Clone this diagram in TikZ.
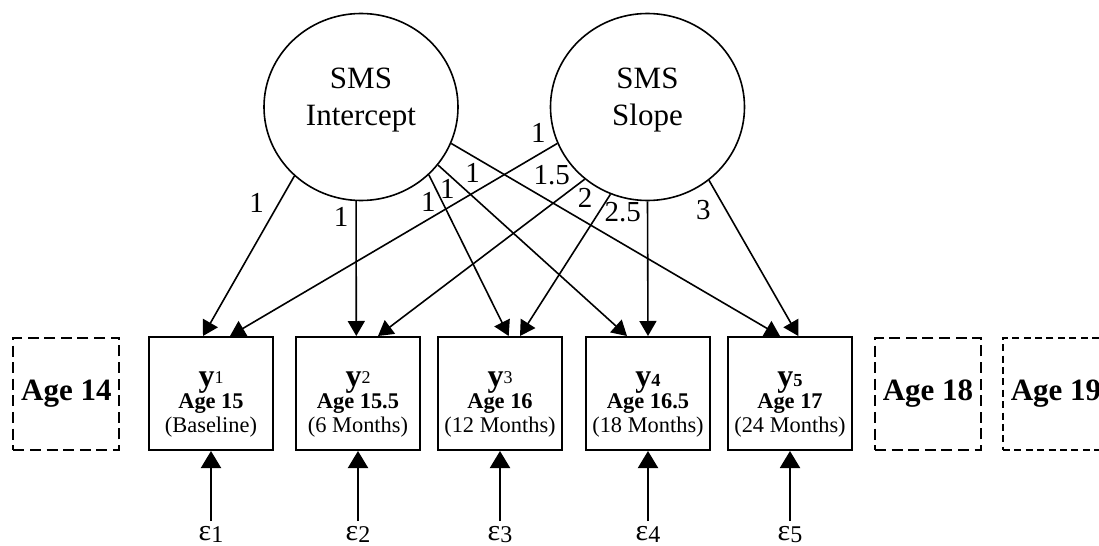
\documentclass[tikz,border=0pt]{standalone}
\usepackage{fontspec}
\setmainfont{Liberation Serif}
\usetikzlibrary{arrows.meta, positioning, shapes.geometric}

\newcommand{\obsy}[1]{\rule{0pt}{18.5pt}{\fontsize{16}{18}\selectfont\bfseries y}\raisebox{1.5pt}{\fontsize{9}{10}\selectfont #1}}
\newcommand{\obsyb}[1]{\rule{0pt}{18.5pt}{\fontsize{16}{18}\selectfont\bfseries y}{\fontsize{9.2}{10}\selectfont\bfseries #1}}
\newcommand{\errlbl}[1]{{\fontsize{15}{18}\selectfont ε}\raisebox{-1.2pt}{\fontsize{12}{14}\selectfont #1}}

\begin{document}
\begin{tikzpicture}[
  latent/.style={draw, ellipse, line width=0.8pt, minimum width=97pt, minimum height=93.5pt, inner sep=0pt, align=center, text depth=10.4pt, font=\fontsize{15.5}{18.3}\selectfont},
  obs/.style={draw, line width=1pt, minimum width=62pt, minimum height=56.5pt, inner sep=0pt, align=center, font=\fontsize{11.2}{12.25}\selectfont},
  future/.style={draw, line width=1pt, dash pattern=on 5.5pt off 2.8pt, minimum width=53pt, minimum height=56pt, inner sep=0pt, font=\fontsize{15.5}{18}\selectfont\bfseries},
  err/.style={inner sep=2.5pt, outer sep=0pt},
  wt/.style={inner sep=0pt, font=\fontsize{14.5}{16}\selectfont},
  line/.style={-{Triangle[length=7.5pt, width=8.5pt]}, line width=0.8pt},
  errline/.style={-{Triangle[length=8.5pt, width=10pt]}, line width=1pt}
]
\useasboundingbox (0,0) rectangle (549.5pt,-273pt);
\clip (0,0) rectangle (549.5pt,-273pt);

\node[latent] (int) at (180.5pt,-53.5pt) {SMS\\Intercept};
\node[latent] (slope) at (323.75pt,-53.5pt) {SMS\\Slope};

\node[obs] (y1) at (105.5pt,-196.75pt) {\obsy{1}\\[-1.5pt]\textbf{Age 15}\\(Baseline)};
\node[obs, right=10.5pt of y1] (y2) {\obsy{2}\\[-1.5pt]\textbf{Age 15.5}\\(6 Months)};
\node[obs, right=8pt of y2] (y3) {\obsy{3}\\[-1.5pt]\textbf{Age 16}\\(12 Months)};
\node[obs, right=11pt of y3] (y4) {\obsyb{4}\\[-1.5pt]\textbf{Age 16.5}\\(18 Months)};
\node[obs, right=8pt of y4] (y5) {\obsyb{5}\\[-1.5pt]\textbf{Age 17}\\(24 Months)};

\node[future, left=13.8pt of y1] (a14) {Age 14};
\node[future, right=10.5pt of y5] (a18) {Age 18};
\node[future, dash pattern=on 3.5pt off 2.2pt, right=10pt of a18] (a19) {Age 19};

\node[err, below=35pt of y1] (e1) {\errlbl{1}};
\node[err, below=35pt of y2] (e2) {\errlbl{2}};
\node[err, below=35pt of y3] (e3) {\errlbl{3}};
\node[err, below=35pt of y4] (e4) {\errlbl{4}};
\node[err, below=35pt of y5] (e5) {\errlbl{5}};

\draw[line] (int.226) -- ([xshift=-4pt]y1.north);
\draw[line] (int.267) -- ([xshift=-0.85pt]y2.north);
\draw[line] (int.315) -- ([xshift=4.35pt]y3.north);
\draw[line] (int.323) -- ([xshift=-10.5pt]y4.north);
\draw[line] (int.338) -- ([xshift=-5pt]y5.north);

\draw[line] (slope.202) -- ([xshift=9.5pt]y1.north);
\draw[line] (slope.229) -- ([xshift=10pt]y2.north);
\draw[line] (slope.247) -- ([xshift=10pt]y3.north);
\draw[line] (slope.270) -- (y4.north);
\draw[line] (slope.310) -- ([xshift=4.15pt]y5.north);

\draw[errline] (e1) -- (y1);
\draw[errline] (e2) -- (y2);
\draw[errline] (e3) -- (y3);
\draw[errline] (e4) -- (y4);
\draw[errline] (e5) -- (y5);

\node[wt] (wi1) at (128.35pt,-101.65pt) {1};
\node[wt] (wi2) at (170.5pt,-108.35pt) {1};
\node[wt] (wi3) at (214.15pt,-100.85pt) {1};
\node[wt] (wi4) at (223.65pt,-94.65pt) {1};
\node[wt] (wi5) at (236.35pt,-86.65pt) {1};
\node[wt] (ws1) at (269.15pt,-66.65pt) {1};
\node[wt] (ws2) at (275.85pt,-87.5pt) {1.5};
\node[wt] (ws3) at (292.5pt,-99.15pt) {2};
\node[wt] (ws4) at (311.35pt,-105.85pt) {2.5};
\node[wt] (ws5) at (351.65pt,-105pt) {3};
\end{tikzpicture}
\end{document}
